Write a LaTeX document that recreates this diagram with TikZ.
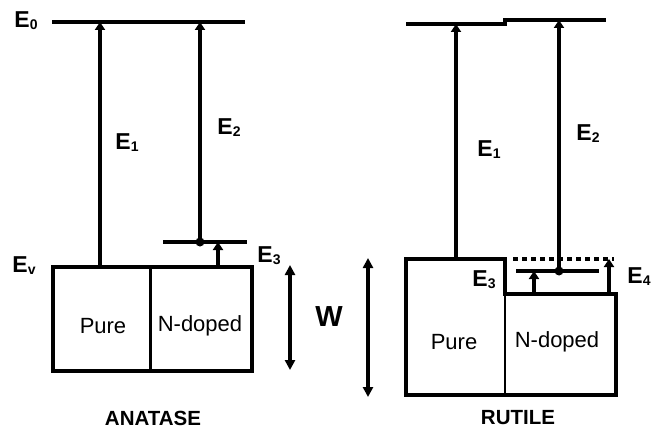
\documentclass[tikz,border=0pt]{standalone}
\usepackage{fontspec}
\setmainfont{Liberation Sans}
\usetikzlibrary{arrows.meta}
\newcommand\Elab[1]{E\kern0.3pt\raisebox{-0.08em}{\fontsize{14}{14}\selectfont #1}}
\tikzset{
  lvl/.style={line width=3.8pt},
  boxline/.style={line width=3.8pt, line join=miter},
  midline/.style={line width=3pt},
  thin/.style={line width=2.4pt},
  uparrow/.style={line width=3.6pt, -{Triangle[width=10pt,length=8pt]}},
  dbl/.style={line width=3.8pt, {Triangle[width=10pt,length=10pt]}-{Triangle[width=10pt,length=10pt]}},
  elabel/.style={font=\fontsize{23}{23}\selectfont\bfseries, inner sep=0pt},
  boxtext/.style={font=\fontsize{22}{22}\selectfont, inner sep=0pt},
  title/.style={font=\fontsize{20.5}{20.5}\selectfont\bfseries, inner sep=0pt},
  dot/.style={circle, fill, inner sep=0pt, minimum size=9pt}
}
\begin{document}
\begin{tikzpicture}[x=1pt,y=-1pt]
\useasboundingbox (0,0) rectangle (652,433);
% ---------------- ANATASE ----------------
\coordinate (aE0l) at (52,22);
\coordinate (aE0r) at (245,22);
\draw[lvl] (aE0l) -- (aE0r);
\coordinate (aE1top) at (100,22);
\coordinate (aE1bot) at (100,267);
\coordinate (aE2top) at (200,22);
\node[dot] (adot) at (200,242) {};
\coordinate (aE3l) at (163,242);
\coordinate (aE3r) at (247,242);
\draw[lvl] (aE3l) -- (aE3r);
\coordinate (asmallbot) at (218,267);
\coordinate (asmalltop) at (218,242);
% box
\draw[boxline] (53,267) rectangle (252,371);
\draw[midline] (150,267) -- (150,371);
\draw[uparrow] (aE1bot) -- (aE1top);
\draw[uparrow] (adot.center) -- (aE2top);
\draw[uparrow] (asmallbot) -- (asmalltop);
\node[elabel] (aE0lab) at (26,21) {\Elab{0}};
\node[elabel] (aEvlab) at (24,266) {\Elab{v}};
\node[elabel] (aE1lab) at (127,143) {\Elab{1}};
\node[elabel] (aE2lab) at (229,128) {\Elab{2}};
\node[elabel] (aE3lab) at (269,256) {\Elab{3}};
\node[boxtext] (apure) at (103,326) {Pure};
\node[boxtext] (andop) at (200,326) {N-doped};
\coordinate (aWt) at (290,265);
\coordinate (aWb) at (290,370);
\draw[dbl] (aWb) -- (aWt);
\node[title] (anat) at (153,418) {ANATASE};
% W label
\node[font=\fontsize{29}{29}\selectfont\bfseries, inner sep=0pt] (W) at (329,317) {W};
% ---------------- RUTILE ----------------
\coordinate (rL1) at (406,24);
\coordinate (rL2) at (505,24);
\coordinate (rL3) at (505,20);
\coordinate (rL4) at (606,20);
\draw[lvl] (rL1) -- (rL2) -- (rL3) -- (rL4);
\coordinate (rE1top) at (456,24);
\coordinate (rE1bot) at (456,259);
\coordinate (rE2top) at (559,20);
\node[dot] (rdot) at (559,271) {};
\coordinate (rE3l) at (516,271);
\coordinate (rE3r) at (599,271);
\draw[lvl] (rE3l) -- (rE3r);
\draw[lvl, dash pattern=on 5pt off 4pt] (513,259) -- (614,259);
\draw[boxline] (406,395) -- (406,259) -- (505,259) -- (505,294) -- (616,294) -- (616,395) -- cycle;
\draw[thin] (505,294) -- (505,395);
\coordinate (rs1bot) at (534,294);
\coordinate (rs1top) at (534,271);
\coordinate (rs2bot) at (609,294);
\coordinate (rs2top) at (609,259);
\draw[uparrow] (rE1bot) -- (rE1top);
\draw[uparrow] (rdot.center) -- (rE2top);
\draw[uparrow] (rs1bot) -- (rs1top);
\draw[uparrow] (rs2bot) -- (rs2top);
\node[elabel] (rE1lab) at (489,150) {\Elab{1}};
\node[elabel] (rE2lab) at (588,134) {\Elab{2}};
\node[elabel] (rE3lab) at (484,280) {\Elab{3}};
\node[elabel] (rE4lab) at (639,277) {\Elab{4}};
\node[boxtext] (rpure) at (454,342) {Pure};
\node[boxtext] (rndop) at (557,342) {N-doped};
\coordinate (rWt) at (368,258);
\coordinate (rWb) at (368,397);
\draw[dbl] (rWb) -- (rWt);
\node[title] (rut) at (518,418) {RUTILE};
\end{tikzpicture}
\end{document}
